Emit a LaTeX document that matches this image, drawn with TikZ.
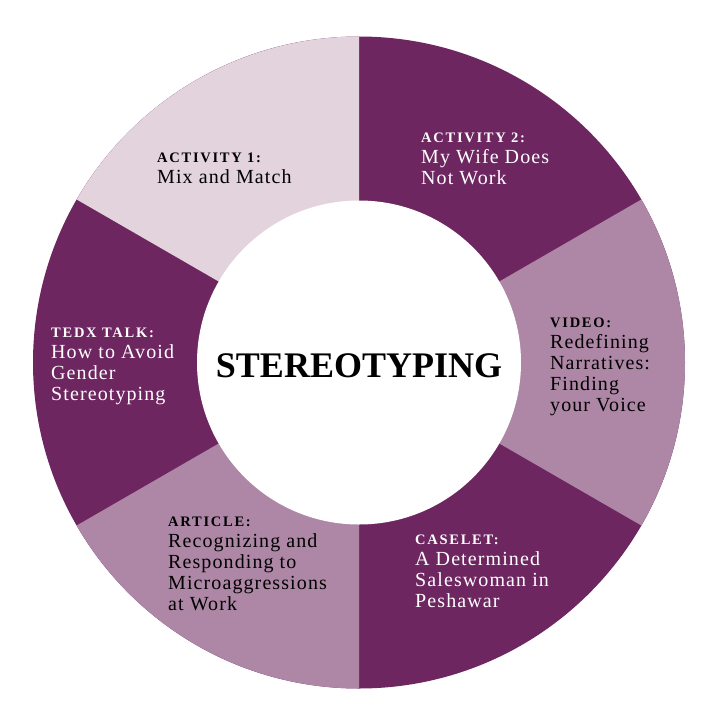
\documentclass[tikz,border=0pt]{standalone}
\usepackage{fontspec}
\setmainfont{Liberation Serif}
\newfontfamily\bodyfont[LetterSpace=5.5]{Liberation Serif}
\newfontfamily\headfont[LetterSpace=12]{Liberation Serif}
\definecolor{dk}{HTML}{6E2661}
\definecolor{md}{HTML}{AD87A5}
\definecolor{lt}{HTML}{E2D3DD}
\tikzset{
  lbl/.style={anchor=north west, inner sep=0pt, align=left, font=\bodyfont\fontsize{20}{21}\selectfont},
  onDark/.style={lbl, text=white},
  onLight/.style={lbl, text=black},
}
\newcommand{\hd}[1]{{\headfont\bfseries\fontsize{14.5}{21}\selectfont #1}\\}
\begin{document}
\begin{tikzpicture}[x=1pt,y=-1pt]
\fill[white] (0,0) rectangle (718,721);
\useasboundingbox (0,0) rectangle (718,721);
\coordinate (C) at (359,362.5);
\fill[dk] (C) circle[radius=326];
\fill[md] (C) -- ++(-30:326) arc[start angle=-30,end angle=30,radius=326] -- cycle;
\fill[md] (C) -- ++(150:326) arc[start angle=150,end angle=90,radius=326] -- cycle;
\fill[lt] (C) -- ++(270:326) arc[start angle=270,end angle=210,radius=326] -- cycle;
\fill[white] (C) circle[radius=162];
\node[font=\fontsize{36}{40}\selectfont\bfseries] (title) at (359,366) {STEREOTYPING};
\node[onLight] (act1) at (157,152.5) {\hd{ACTIVITY 1:}Mix and Match};
\node[onDark] (act2) at (421,133) {\hd{ACTIVITY 2:}My Wife Does\\Not Work};
\node[onLight] (video) at (550,317.5) {\hd{VIDEO:}Redefining\\Narratives:\\Finding\\your Voice};
\node[onDark] (tedx) at (51,328) {\hd{TEDX TALK:}How to Avoid\\Gender\\Stereotyping};
\node[onLight] (article) at (168,516.5) {\hd{ARTICLE:}Recognizing and\\Responding to\\Microaggressions\\at Work};
\node[onDark] (caselet) at (415,535) {\hd{CASELET:}A Determined\\Saleswoman in\\Peshawar};
\end{tikzpicture}
\end{document}
